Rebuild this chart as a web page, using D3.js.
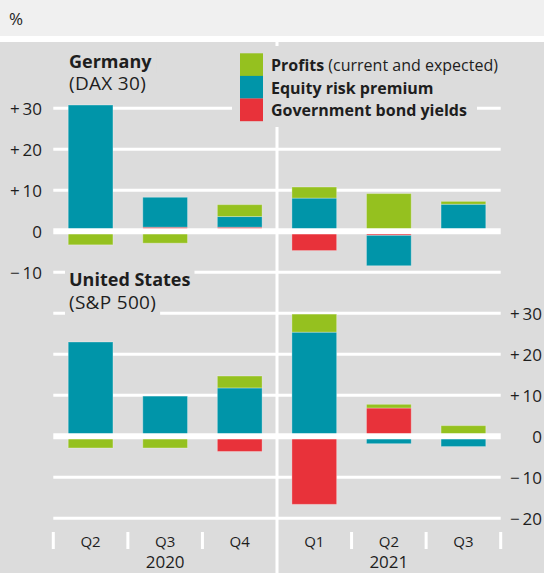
<!DOCTYPE html>
<html><head><meta charset="utf-8">
<script src="https://cdn.jsdelivr.net/npm/d3@7"></script>
<style>
body{margin:0;background:#fff}
svg{display:block}
text{font-family:"Open Sans",sans-serif;fill:#1e1e1e}
</style>
</head><body>
<svg id="c" width="544" height="573"></svg>
<script>
// ---- data ----
const periods = ["2020Q2","2020Q3","2020Q4","2021Q1","2021Q2","2021Q3"];
const quarterLabels = ["Q2","Q3","Q4","Q1","Q2","Q3"];
const years = ["2020","2021"];
const seriesKeys = ["bond","erp","profits"];
const seriesLabels = {profits:["Profits"," (current and expected)"], erp:["Equity risk premium",""], bond:["Government bond yields",""]};
const seriesColors = {profits:"#95c11f", erp:"#0095a9", bond:"#e8323a"};

// Germany (DAX 30)
const deProfits = [-3.3, -2.9, 2.9, 2.7, 9.2, 0.7];
const deErp     = [30.8, 7.3, 2.6, 8.1, -7.4, 6.6];
const deBond    = [0.0, 1.0, 1.0, -4.7, -1.0, 0.0];
// United States (S&P 500)
const usProfits = [-2.85, -2.85, 2.9, 4.4, 0.9, 2.6];
const usErp     = [23.0, 9.8, 11.8, 25.4, -1.8, -2.5];
const usBond    = [0.0, 0.0, -3.7, -16.6, 6.9, 0.0];

const deTicks = [-10, 0, 10, 20, 30];
const usTicks = [-20, -10, 0, 10, 20, 30];

// ---- layout ----
const W = 544, H = 573;
const panelColor = "#dcdcdc";
const svg = d3.select("#c");

svg.append("rect").attr("x",0).attr("y",0).attr("width",W).attr("height",36).attr("fill","#f0f0f0");
svg.append("rect").attr("x",0).attr("y",42).attr("width",W).attr("height",H-42).attr("fill",panelColor);
svg.append("text").attr("x",9).attr("y",18).attr("dominant-baseline","central").style("font-size","17px").text("%");

const x = d3.scaleBand().domain(periods).range([53.3, 500.7]).paddingInner(0.4).paddingOuter(0.2);
const step = x.step();
const x0 = 53.3;

const yDE = d3.scaleLinear().domain([-10, 30]).range([272.3, 108.3]);
const yUS = d3.scaleLinear().domain([-20, 30]).range([518.3, 313.3]);

function rows(p, e, b){ return periods.map((d,i)=>({period:d, profits:p[i], erp:e[i], bond:b[i]})); }
const deData = rows(deProfits, deErp, deBond);
const usData = rows(usProfits, usErp, usBond);

const stack = d3.stack().keys(seriesKeys).offset(d3.stackOffsetDiverging);

const fmt = v => v > 0 ? "+\u2009" + v : (v < 0 ? "\u2212\u2009" + Math.abs(v) : "0");

// gridlines (non-zero)
const gGrid = svg.append("g");
function grid(y, ticks){
  gGrid.selectAll(null).data(ticks.filter(t=>t!==0)).join("line")
    .attr("x1", x0).attr("x2", 500.7)
    .attr("y1", d=>y(d)).attr("y2", d=>y(d))
    .attr("stroke","#fff").attr("stroke-width",3);
}
grid(yDE, deTicks);
grid(yUS, usTicks);

// vertical separator between years
const sepX = x0 + 3*step;
svg.append("line").attr("x1",sepX).attr("x2",sepX).attr("y1",42).attr("y2",H)
  .attr("stroke","#fff").attr("stroke-width",3);

// label backgrounds + texts
const gLab = svg.append("g");
function titleBlock(xp, y1, t1, y2, t2){
  const a = gLab.append("text").attr("x",xp).attr("y",y1).style("font-size","18px").style("font-weight","bold").text(t1);
  const b = gLab.append("text").attr("x",xp).attr("y",y2).style("font-size","19px").style("letter-spacing","0.3px").text(t2);
  [a,b].forEach(t=>{
    const bb = t.node().getBBox();
    gLab.insert("rect","text").attr("x",bb.x-4).attr("y",bb.y).attr("width",bb.width+8).attr("height",bb.height).attr("fill",panelColor);
  });
}
titleBlock(69, 68, "Germany", 90, "(DAX 30)");
titleBlock(69, 286, "United States", 309, "(S&P 500)");

// legend
const gLeg = svg.append("g");
gLeg.append("rect").attr("x",232).attr("y",46).attr("width",245).attr("height",81).attr("fill",panelColor);
const legOrder = ["profits","erp","bond"];
legOrder.forEach((k,i)=>{
  gLeg.append("rect").attr("x",240).attr("y",53.3 + i*22.6).attr("width",23).attr("height",22.7).attr("fill",seriesColors[k]);
  const t = gLeg.append("text").attr("x",271).attr("y",71 + i*22.5).style("font-size","16px");
  t.append("tspan").style("font-weight","bold").text(seriesLabels[k][0]);
  if (seriesLabels[k][1]) t.append("tspan").text(seriesLabels[k][1]);
});

// bars
function bars(data, y){
  const series = stack(data);
  const g = svg.append("g");
  g.selectAll("g").data(series).join("g").attr("fill", s=>seriesColors[s.key])
    .selectAll("rect").data(s=>s.filter(d=>d[1]-d[0] !== 0)).join("rect")
    .attr("x", d=>x(d.data.period)).attr("width", x.bandwidth())
    .attr("y", d=>y(Math.max(d[0],d[1]))).attr("height", d=>Math.abs(y(d[0])-y(d[1])))
    .attr("stroke","rgba(255,255,255,0.3)").attr("stroke-width",1);
  // zero line on top
  svg.append("line").attr("x1",x0).attr("x2",500.7).attr("y1",y(0)).attr("y2",y(0))
    .attr("stroke","#fff").attr("stroke-width",6);
}
bars(deData, yDE);
bars(usData, yUS);

// axes labels
const axDE = d3.axisLeft(yDE).tickValues(deTicks).tickFormat(fmt).tickSize(0).tickPadding(0);
const gAxDE = svg.append("g").attr("transform","translate(42,0)").call(axDE);
const axUS = d3.axisRight(yUS).tickValues(usTicks).tickFormat(fmt).tickSize(0).tickPadding(0);
const gAxUS = svg.append("g").attr("transform","translate(542,0)").call(axUS);
gAxUS.selectAll("text").attr("text-anchor","end");
[gAxDE, gAxUS].forEach(g=>{
  g.select(".domain").remove();
  g.selectAll("text").attr("font-family",null).attr("font-size",null).style("font-size","17px").attr("dy","0.35em");
});

// bottom axis: boundary ticks, quarter labels, years
const bounds = d3.range(periods.length+1).map(i=>x0 + i*step);
svg.append("g").selectAll("line").data(bounds.filter((d,i)=>i!==3)).join("line")
  .attr("x1",d=>d).attr("x2",d=>d).attr("y1",532).attr("y2",549)
  .attr("stroke","#fff").attr("stroke-width",3);
svg.append("g").selectAll("text").data(periods).join("text")
  .attr("x", d=>x(d)+x.bandwidth()/2).attr("y",542).attr("dy","0.35em")
  .attr("text-anchor","middle").style("font-size","15px")
  .text((d,i)=>quarterLabels[i]);
svg.append("g").selectAll("text").data(years).join("text")
  .attr("x",(d,i)=> i===0 ? (bounds[0]+bounds[3])/2 : (bounds[3]+bounds[6])/2)
  .attr("y",562).attr("dy","0.35em").attr("text-anchor","middle").style("font-size","17px")
  .text(d=>d);
</script>
</body></html>
